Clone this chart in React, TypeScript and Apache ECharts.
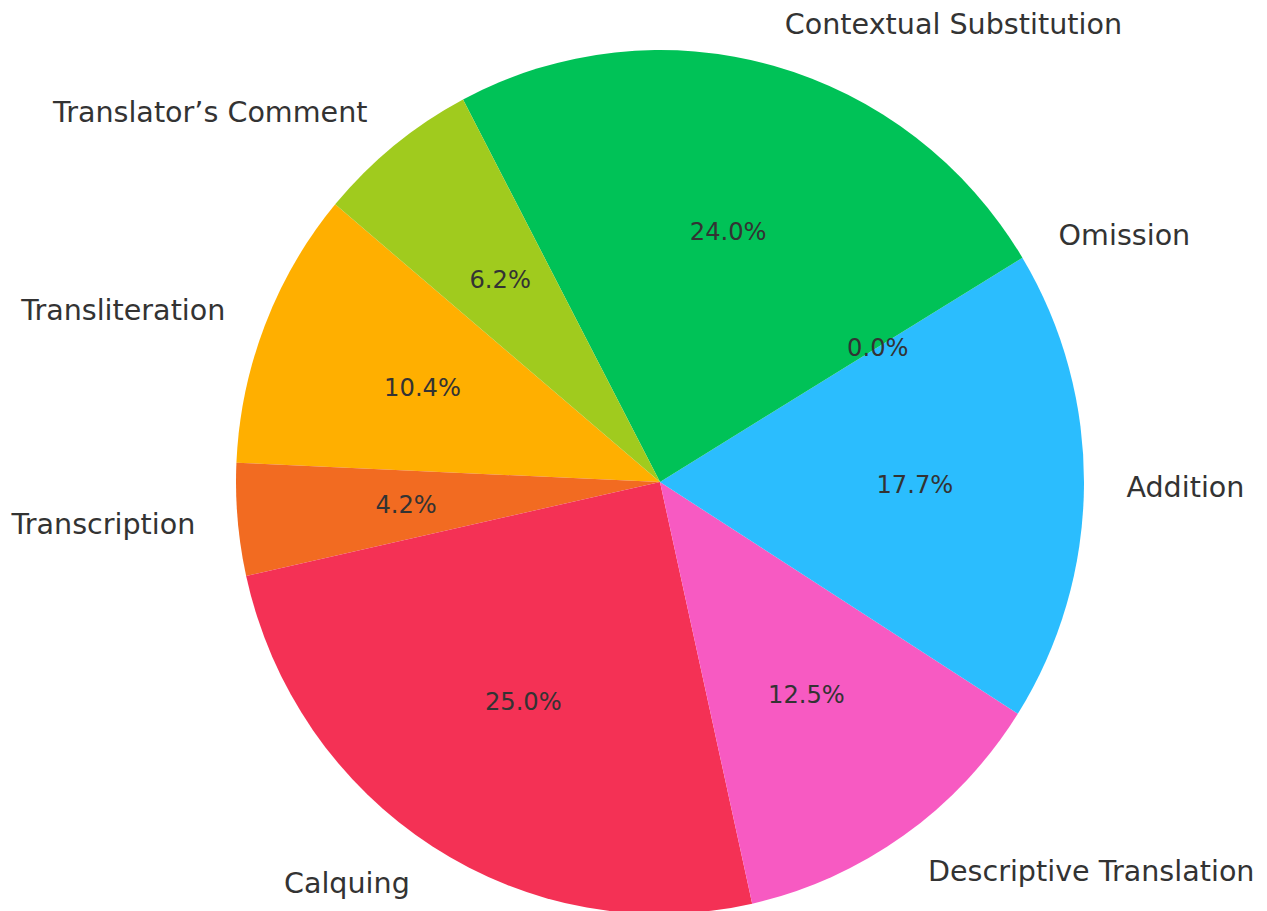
import React, { useEffect, useRef } from "react";
import * as echarts from "echarts";

const categories = [
  "Transliteration",
  "Transcription",
  "Calquing",
  "Descriptive Translation",
  "Addition",
  "Omission",
  "Contextual Substitution",
  "Translator’s Comment",
];
const values = [10.4, 4.2, 25.0, 12.5, 17.7, 0.0, 24.0, 6.2];
const colors = [
  "#FFAF00",
  "#F26B21",
  "#F43155",
  "#F75AC2",
  "#2BBDFE",
  "#8A3FD1",
  "#00C257",
  "#A0CB1E",
];

const R = 424;
const RY = 432;
const CX = 660;
const CY = 482;
const FONT = "DejaVu Sans";
const TEXT = "#333333";

export default function App() {
  const ref = useRef<HTMLDivElement>(null);
  useEffect(() => {
    if (!ref.current) return;
    const chart = echarts.init(ref.current, undefined, { renderer: "svg" });
    const data = categories.map((name, i) => ({
      name,
      value: values[i],
      itemStyle: { color: colors[i] },
    }));
    chart.setOption({
      animation: false,
      backgroundColor: "#ffffff",
      series: [
        {
          type: "pie",
          center: [CX, CY],
          radius: [0, R],
          startAngle: 140,
          clockwise: false,
          avoidLabelOverlap: false,
          silent: true,
          emphasis: { disabled: true },
          data,
          itemStyle: { borderWidth: 0 },
          label: {
            show: true,
            position: "outside",
            formatter: "{b}",
            fontFamily: FONT,
            fontSize: 28.6,
            color: TEXT,
            distanceToLabelLine: 0,
            overflow: "none",
          },
          labelLine: { show: false, length: R * 0.1, length2: 0 },
        },
        {
          type: "pie",
          center: [CX, CY],
          radius: [R * 0.188, R],
          startAngle: 140,
          clockwise: false,
          avoidLabelOverlap: false,
          silent: true,
          emphasis: { disabled: true },
          data: categories.map((name, i) => ({ name, value: values[i] })),
          itemStyle: { color: "rgba(0,0,0,0)", borderWidth: 0 },
          label: {
            show: true,
            position: "inside",
            formatter: (p: any) => Number(p.value).toFixed(1) + "%",
            fontFamily: FONT,
            fontSize: 24.2,
            color: TEXT,
          },
          labelLine: { show: false },
        },
      ],
    });
    return () => chart.dispose();
  }, []);
  return (
    <div
      ref={ref}
      style={{
        position: "absolute",
        left: 0,
        top: 0,
        width: 1267,
        height: 911,
        transform: `scaleY(${RY / R})`,
        transformOrigin: `${CX}px ${CY}px`,
      }}
    />
  );
}
